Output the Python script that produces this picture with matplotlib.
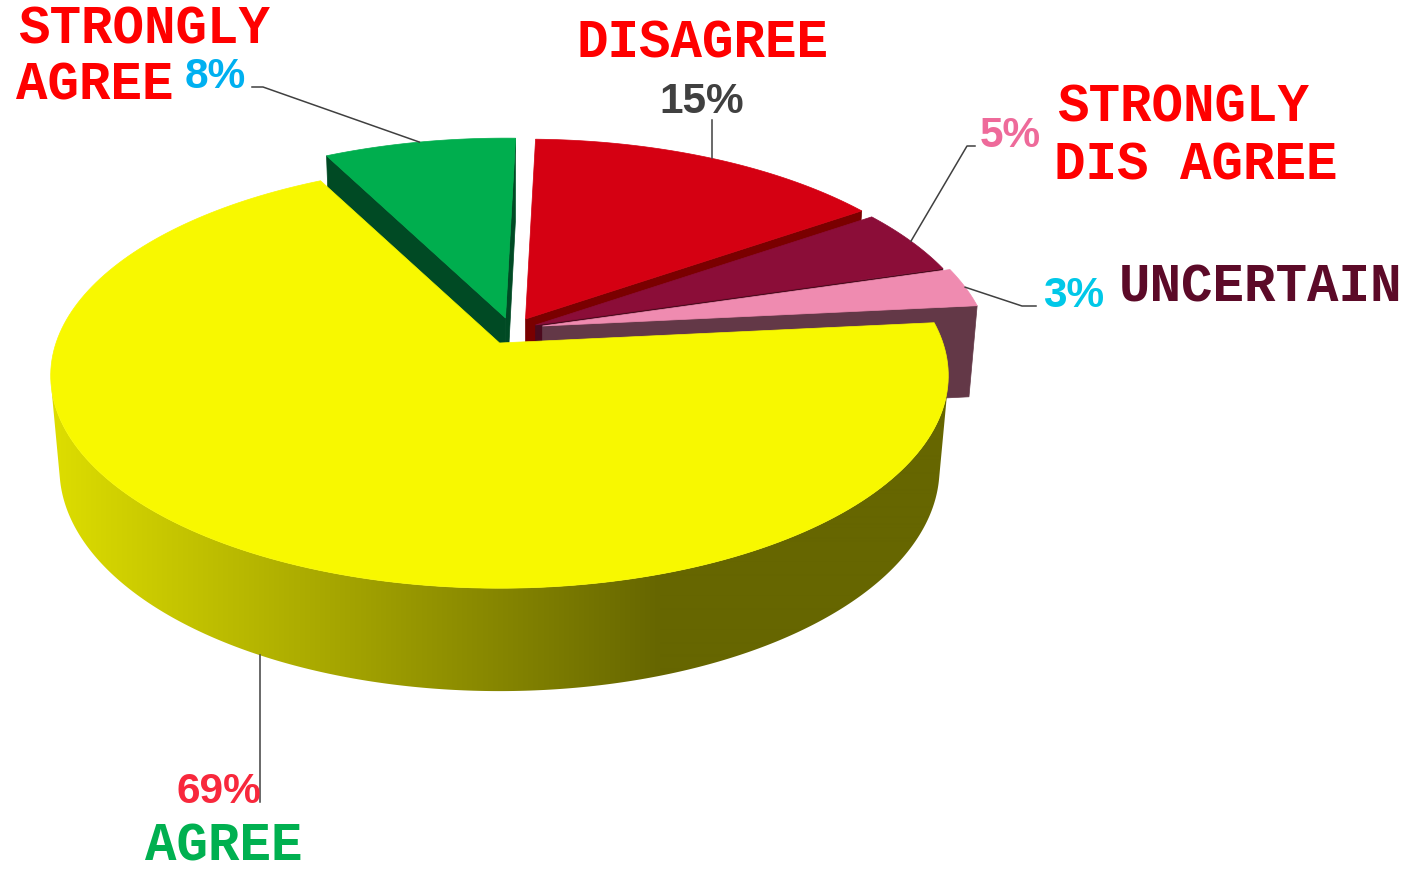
import numpy as np
import matplotlib.pyplot as plt
from matplotlib.patches import Polygon

# slices, clockwise from 12 o'clock
categories = ['DISAGREE', 'STRONGLY\nDIS AGREE', 'UNCERTAIN', 'AGREE', 'STRONGLY\nAGREE']
values = [15, 5, 3, 69, 8]
pct_labels = ['15%', '5%', '3%', '69%', '8%']

top_colors = ['#D50012', '#8B0D38', '#EF8BB0', '#F8F800', '#00AE4E']
cut_colors = ['#7A0000', '#4C0A1E', '#633847', '#8C8C00', '#004A24']
explode_px = [(26, -24), (36, -18), (43, -17), (0, 0), (6, -25)]

# perspective camera for the 3d pie
CX, CY = 499.5, 344
F, D = 2550.0, 5.75
ELEV = np.radians(27.9)
H = 0.2395
START = 1.5


def project(theta, r=1.0, z=0.0):
    t = np.radians(theta)
    X, Y = r * np.sin(t), r * np.cos(t)
    c, s = np.cos(ELEV), np.sin(ELEV)
    depth = D + Y * c - z * s
    return CX + F * X / depth, CY - F * (Y * s + z * c) / depth


fig = plt.figure(figsize=(14.19, 8.70), dpi=100)
ax = fig.add_axes([0, 0, 1, 1])
ax.set_xlim(0, 1419)
ax.set_ylim(870, 0)
ax.axis('off')

# horizontal shading for the side wall: light olive on the left, dark on the right
xs = np.arange(1419)
k = np.clip((xs - 50) / 610.0, 0, 1)
g = (222 - 120 * k) / 255.0
wall_img = np.zeros((2, 1419, 3))
wall_img[:, :, 0] = g
wall_img[:, :, 1] = g

bounds = START + np.concatenate([[0], np.cumsum(values)]) * 360.0 / sum(values)
lim = np.degrees(np.arccos(-1.0 / (D * np.cos(ELEV))))

# painter's order: back slices first, big front slice last
order = [4, 0, 1, 2, 3]
for i in order:
    a, b = bounds[i], bounds[i + 1]
    ox, oy = explode_px[i]

    def pt(th, r=1.0, z=0.0):
        x, y = project(th, r, z)
        return x + ox, y + oy

    # radial cut faces
    for th, visible in [(a, np.sin(np.radians(a)) < 0), (b, np.sin(np.radians(b)) > 0)]:
        if visible:
            quad = [pt(th, 0), pt(th), pt(th, 1, -H), pt(th, 0, -H)]
            ax.add_patch(Polygon(quad, closed=True, fc=cut_colors[i], ec=cut_colors[i], lw=0.5))

    # outer wall with gradient
    w0, w1 = max(a, lim), min(b, 360 - lim)
    if w1 > w0:
        ts = np.linspace(w0, w1, 300)
        outline = [pt(t) for t in ts] + [pt(t, 1, -H) for t in ts[::-1]]
        wall = Polygon(outline, closed=True, fc='none', ec='none')
        ax.add_patch(wall)
        im = ax.imshow(wall_img, extent=(0, 1419, 870, 0), aspect='auto',
                       interpolation='bilinear', zorder=1)
        im.set_clip_path(wall)

    # top surface
    arc = [pt(t) for t in np.linspace(a, b, 200)]
    ax.add_patch(Polygon([pt(a, 0)] + arc, closed=True, fc=top_colors[i],
                         ec=top_colors[i], lw=0.5, zorder=1))

ax.set_xlim(0, 1419)
ax.set_ylim(870, 0)


def mid_rim(i, z=0.0):
    th = (bounds[i] + bounds[i + 1]) / 2
    x, y = project(th, 1.0, z)
    return x + explode_px[i][0], y + explode_px[i][1]


lc = '#404040'
# leader lines
x, y = mid_rim(4)
ax.plot([x, 263, 252], [y, 88, 88], color=lc, lw=1.1)
x, y = mid_rim(0)
ax.plot([x, x], [y, 121], color=lc, lw=1.1)
x, y = mid_rim(1)
ax.plot([x, 967, 975], [y, 147, 147], color=lc, lw=1.1)
x, y = mid_rim(2)
ax.plot([x, 1022, 1036], [y, 307, 307], color=lc, lw=1.1)
x, y = mid_rim(3, -H)
ax.plot([x, x], [y, 803], color=lc, lw=1.1)

mono = dict(family='Liberation Mono', weight='bold', fontsize=37.8)
sans = dict(family='Liberation Sans', weight='bold', fontsize=30.5)

# category labels
ax.text(18, 43, categories[4].split('\n')[0], color='#FF0000', va='baseline', **mono)
ax.text(16, 100, categories[4].split('\n')[1], color='#FF0000', va='baseline', **mono)
ax.text(703, 57, categories[0], color='#FF0000', ha='center', va='baseline', **mono)
ax.text(1057, 122, categories[1].split('\n')[0], color='#FF0000', va='baseline', **mono)
ax.text(1054, 179, categories[1].split('\n')[1], color='#FF0000', va='baseline', **mono)
ax.text(1119, 302, categories[2], color='#5C0A28', va='baseline', **mono)
ax.text(224, 861, categories[3], color='#00B050', ha='center', va='baseline', **mono)

# percent labels
ax.text(185, 88, pct_labels[4], color='#00B0F0', va='baseline', **sans)
ax.text(702, 113, pct_labels[0], color='#404040', ha='center', va='baseline', **sans)
ax.text(980, 147, pct_labels[1], color='#EE6A9A', va='baseline', **sans)
ax.text(1043, 307, pct_labels[2], color='#00C8E8', va='baseline', **sans)
ax.text(261, 803, pct_labels[3], color='#F8283C', ha='right', va='baseline', **sans)

fig.savefig('out.png', dpi=100)
